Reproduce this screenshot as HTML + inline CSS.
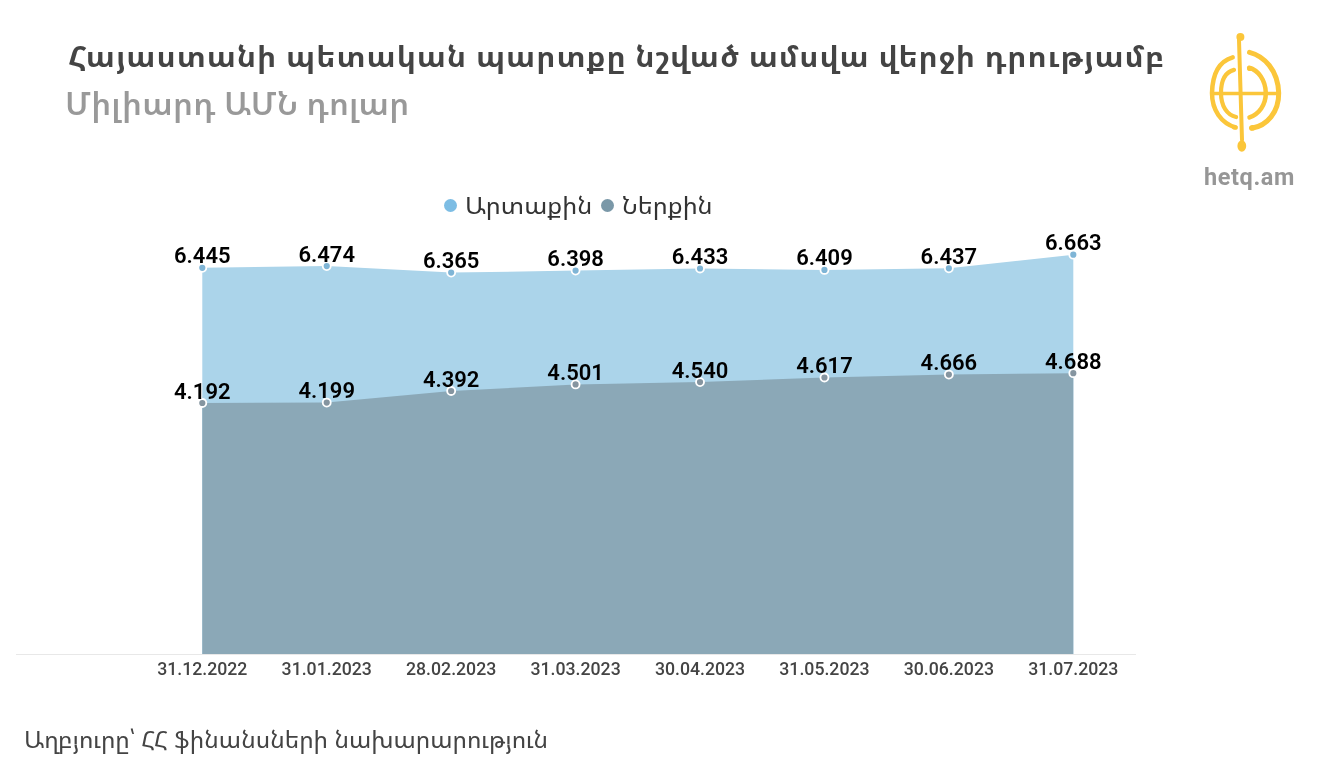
<!DOCTYPE html>
<html><head><meta charset="utf-8"><style>
html,body{margin:0;padding:0;background:#fff;width:1326px;height:774px;overflow:hidden}
body{position:relative;font-family:"Noto Sans Armenian","DejaVu Sans","Liberation Sans",sans-serif}
.t{position:absolute;white-space:nowrap;will-change:transform}
#title{left:68px;top:35px;font-size:30px;font-weight:700;color:#444;letter-spacing:0.98px}
#sub{left:65px;top:80.5px;font-size:32px;font-weight:600;color:#999;letter-spacing:0.22px}
.leg{top:189px;font-size:23px;font-weight:400;color:#333;transform-origin:0 0;transform:scaleX(1.09)}
.dot{position:absolute;width:13.2px;height:13.2px;border-radius:50%;top:198.6px}
#src{left:24px;top:723px;font-size:23px;font-weight:400;color:#444;transform-origin:0 0;transform:scaleX(1.054)}
#brand{left:1203.8px;top:163px;font-family:Roboto,"Liberation Sans",sans-serif;font-weight:700;font-size:23.5px;letter-spacing:0.6px;color:#969696}
svg text{font-family:Roboto,"Liberation Sans",sans-serif;text-anchor:middle}
.lbl{font-size:22px;font-weight:600;fill:#000}
.dt{font-size:17.7px;font-weight:500;fill:#444}
</style></head><body>
<div class="t" id="title">Հայաստանի պետական պարտքը նշված ամսվա վերջի դրությամբ</div>
<div class="t" id="sub">Միլիարդ ԱՄՆ դոլար</div>
<div class="dot" style="left:444px;background:#7dbde4"></div><div class="t leg" style="left:465px">Արտաքին</div><div class="dot" style="left:600.5px;background:#7a98a8"></div><div class="t leg" style="left:622px">Ներքին</div>
<svg width="1326" height="774" style="position:absolute;left:0;top:0;will-change:transform">
<path d="M202.30,654.50 L202.30,267.80 326.73,266.06 451.16,272.60 575.59,270.62 700.02,268.52 824.45,269.96 948.88,268.28 1073.31,254.72 L1073.31,654.50 Z" fill="#abd4ea"/>
<path d="M202.30,654.50 L202.30,402.98 326.73,402.56 451.16,390.98 575.59,384.44 700.02,382.10 824.45,377.48 948.88,374.54 1073.31,373.22 L1073.31,654.50 Z" fill="#8ba8b7"/>
<line x1="16" y1="654.5" x2="1136" y2="654.5" stroke="#e8e8e8" stroke-width="1"/>
<circle cx="202.30" cy="267.80" r="4" fill="#7fb5d6" stroke="#fff" stroke-width="1.8"/>
<circle cx="326.73" cy="266.06" r="4" fill="#7fb5d6" stroke="#fff" stroke-width="1.8"/>
<circle cx="451.16" cy="272.60" r="4" fill="#7fb5d6" stroke="#fff" stroke-width="1.8"/>
<circle cx="575.59" cy="270.62" r="4" fill="#7fb5d6" stroke="#fff" stroke-width="1.8"/>
<circle cx="700.02" cy="268.52" r="4" fill="#7fb5d6" stroke="#fff" stroke-width="1.8"/>
<circle cx="824.45" cy="269.96" r="4" fill="#7fb5d6" stroke="#fff" stroke-width="1.8"/>
<circle cx="948.88" cy="268.28" r="4" fill="#7fb5d6" stroke="#fff" stroke-width="1.8"/>
<circle cx="1073.31" cy="254.72" r="4" fill="#7fb5d6" stroke="#fff" stroke-width="1.8"/>
<circle cx="202.30" cy="402.98" r="4" fill="#8595a0" stroke="#fff" stroke-width="1.8"/>
<circle cx="326.73" cy="402.56" r="4" fill="#8595a0" stroke="#fff" stroke-width="1.8"/>
<circle cx="451.16" cy="390.98" r="4" fill="#8595a0" stroke="#fff" stroke-width="1.8"/>
<circle cx="575.59" cy="384.44" r="4" fill="#8595a0" stroke="#fff" stroke-width="1.8"/>
<circle cx="700.02" cy="382.10" r="4" fill="#8595a0" stroke="#fff" stroke-width="1.8"/>
<circle cx="824.45" cy="377.48" r="4" fill="#8595a0" stroke="#fff" stroke-width="1.8"/>
<circle cx="948.88" cy="374.54" r="4" fill="#8595a0" stroke="#fff" stroke-width="1.8"/>
<circle cx="1073.31" cy="373.22" r="4" fill="#8595a0" stroke="#fff" stroke-width="1.8"/>
<text x="202.30" y="263.30" class="lbl">6.445</text>
<text x="326.73" y="261.56" class="lbl">6.474</text>
<text x="451.16" y="268.10" class="lbl">6.365</text>
<text x="575.59" y="266.12" class="lbl">6.398</text>
<text x="700.02" y="264.02" class="lbl">6.433</text>
<text x="824.45" y="265.46" class="lbl">6.409</text>
<text x="948.88" y="263.78" class="lbl">6.437</text>
<text x="1073.31" y="250.22" class="lbl">6.663</text>
<text x="202.30" y="398.68" class="lbl">4.192</text>
<text x="326.73" y="398.26" class="lbl">4.199</text>
<text x="451.16" y="386.68" class="lbl">4.392</text>
<text x="575.59" y="380.14" class="lbl">4.501</text>
<text x="700.02" y="377.80" class="lbl">4.540</text>
<text x="824.45" y="373.18" class="lbl">4.617</text>
<text x="948.88" y="370.24" class="lbl">4.666</text>
<text x="1073.31" y="368.92" class="lbl">4.688</text>
<text x="202.30" y="675" class="dt">31.12.2022</text>
<text x="326.73" y="675" class="dt">31.01.2023</text>
<text x="451.16" y="675" class="dt">28.02.2023</text>
<text x="575.59" y="675" class="dt">31.03.2023</text>
<text x="700.02" y="675" class="dt">30.04.2023</text>
<text x="824.45" y="675" class="dt">31.05.2023</text>
<text x="948.88" y="675" class="dt">30.06.2023</text>
<text x="1073.31" y="675" class="dt">31.07.2023</text>
</svg>
<svg class="logo" width="100" height="135" viewBox="1195 25 100 135" style="position:absolute;left:1195px;top:25px">
<g fill="none" stroke="#fbc63a" stroke-linecap="round">
<path d="M1239,40 C1239.6,70 1240.8,100 1242,140" stroke-width="4"/>
<path d="M1212,93.5 L1279,93.5" stroke-width="3.4"/>
<path d="M1232.7,57.3 C1220,61 1212.5,72 1212,93 C1212,110 1221,123 1235.7,127.5" stroke-width="4.5"/>
<path d="M1249.5,52.3 C1264,56 1278,70 1278.7,93 C1279,112 1267,126 1251.6,128.3" stroke-width="5"/>
<path d="M1234,69.9 C1226,72 1221,80 1221,93 C1221,106 1227,115 1236.1,117" stroke-width="4.2"/>
<path d="M1249.1,67.8 C1258,70 1265.5,80 1265.8,93 C1265.8,105 1259,114 1249.5,117.4" stroke-width="4.5"/>
</g>
<g fill="#fbc63a">
<circle cx="1240.4" cy="37" r="4"/>
<ellipse cx="1241.8" cy="146" rx="4.4" ry="5.8"/>
<ellipse cx="1250" cy="68.5" rx="3" ry="2.6"/>
<ellipse cx="1252.5" cy="127.8" rx="3.2" ry="2.8"/>
<ellipse cx="1234.5" cy="127.3" rx="2.6" ry="2.3"/>
</g>
</svg>
<div class="t" id="brand">hetq.am</div>
<div class="t" id="src">Աղբյուրը՝ ՀՀ ֆինանսների նախարարություն</div>
</body></html>
